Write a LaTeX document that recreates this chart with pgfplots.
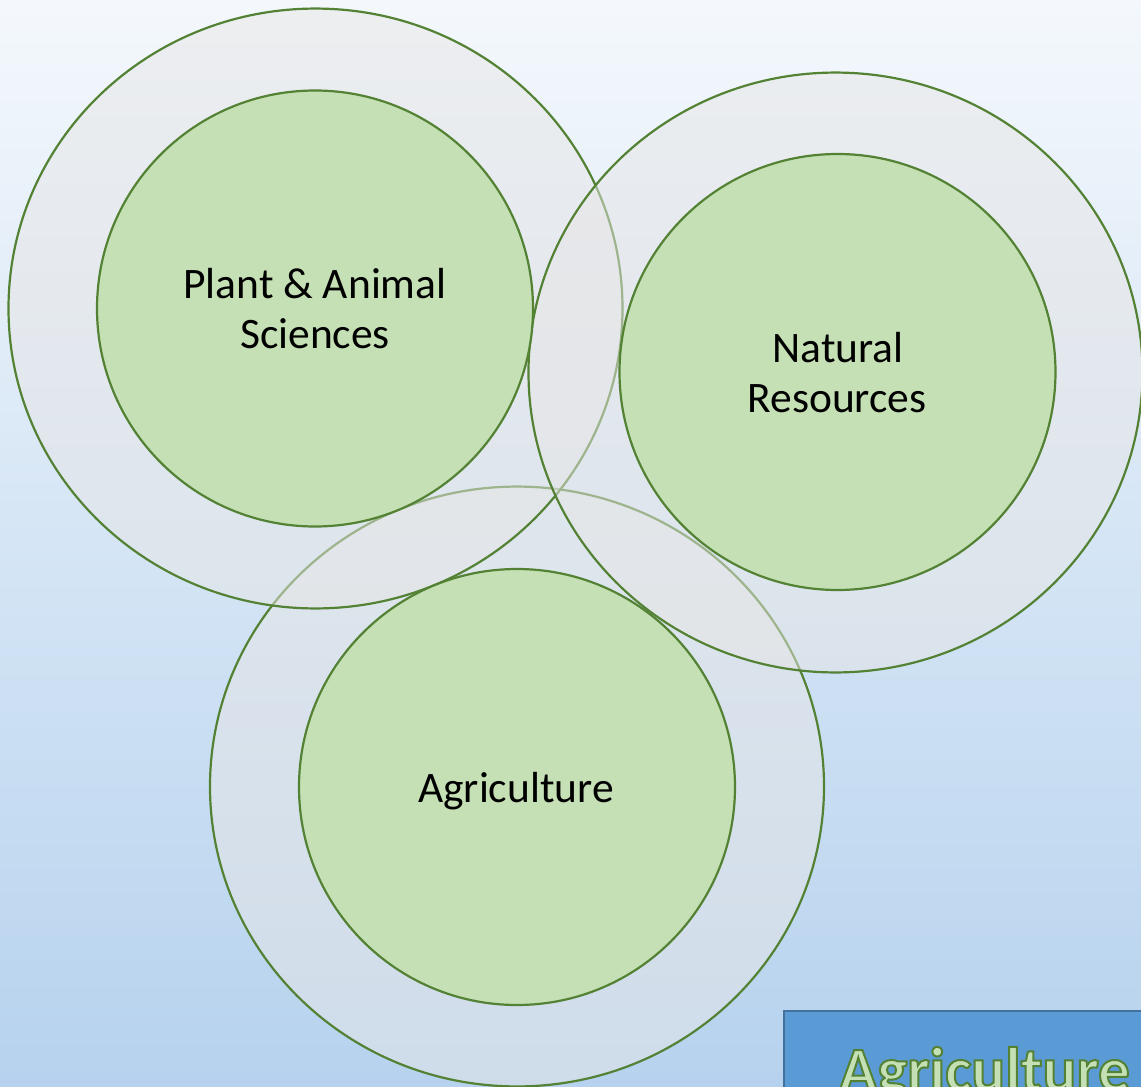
\documentclass[border=0pt]{standalone}
\usepackage{fontspec}
\setmainfont{Carlito}
\usepackage{pgfplots}
\pgfplotsset{compat=1.18}
\definecolor{bgtop}{HTML}{F4F8FC}
\definecolor{bgbot}{HTML}{B6D2EE}
\definecolor{ring}{HTML}{E7E6E6}
\definecolor{edge}{HTML}{548235}
\definecolor{innerc}{HTML}{C5E0B4}
\definecolor{boxfill}{HTML}{5B9BD5}
\definecolor{boxedge}{HTML}{41719C}
\tikzset{
  lbl/.style={anchor=base, inner sep=0pt, font=\fontsize{43.5}{50}\selectfont, text=black},
  big/.style={anchor=base west, inner sep=0pt, font=\fontsize{63}{70}\selectfont\bfseries},
}
\newcommand{\outlined}[1]{\special{pdf:literal direct 2 Tr 2 w 0.329 0.510 0.208 RG}#1\special{pdf:literal direct 0 Tr}}
\begin{document}
\begin{tikzpicture}
\begin{axis}[name=ax, x=1pt, y=1pt, xmin=0, xmax=1141, ymin=0, ymax=1087,
  y dir=reverse, hide axis, clip marker paths=true, scale only axis]
\fill[top color=bgtop, bottom color=bgbot] (axis cs:0,0) rectangle (axis cs:1141,1087);
% outer rings: Agriculture, Plant & Animal Sciences, Natural Resources
\addplot[only marks, mark=*, mark size=307pt,
  mark options={yscale=0.977, fill=ring, fill opacity=0.5, draw=edge, draw opacity=1, line width=2.2pt}]
  coordinates {(517,786.5) (315.5,308.5) (835.5,372.5)};
% inner circles
\addplot[only marks, mark=*, mark size=218pt,
  mark options={fill=innerc, draw=edge, line width=2.2pt}]
  coordinates {(315,308.5) (837.5,372) (517,787)};
\node[lbl] at (axis cs:315,298) {Plant \& Animal};
\node[lbl] at (axis cs:315,348) {Sciences};
\node[lbl] at (axis cs:838,362) {Natural};
\node[lbl] at (axis cs:837,412) {Resources};
\node[lbl] at (axis cs:516,802) {Agriculture};
% title box
\draw[fill=boxfill, draw=boxedge, line width=1.5pt] (axis cs:784,1011) rectangle (axis cs:1170,1120);
\node[big, text=innerc] at (axis cs:839,1091) {\outlined{Agriculture}};
\end{axis}
\pgfresetboundingbox
\path (ax.south west) rectangle (ax.north east);
\end{tikzpicture}
\end{document}
